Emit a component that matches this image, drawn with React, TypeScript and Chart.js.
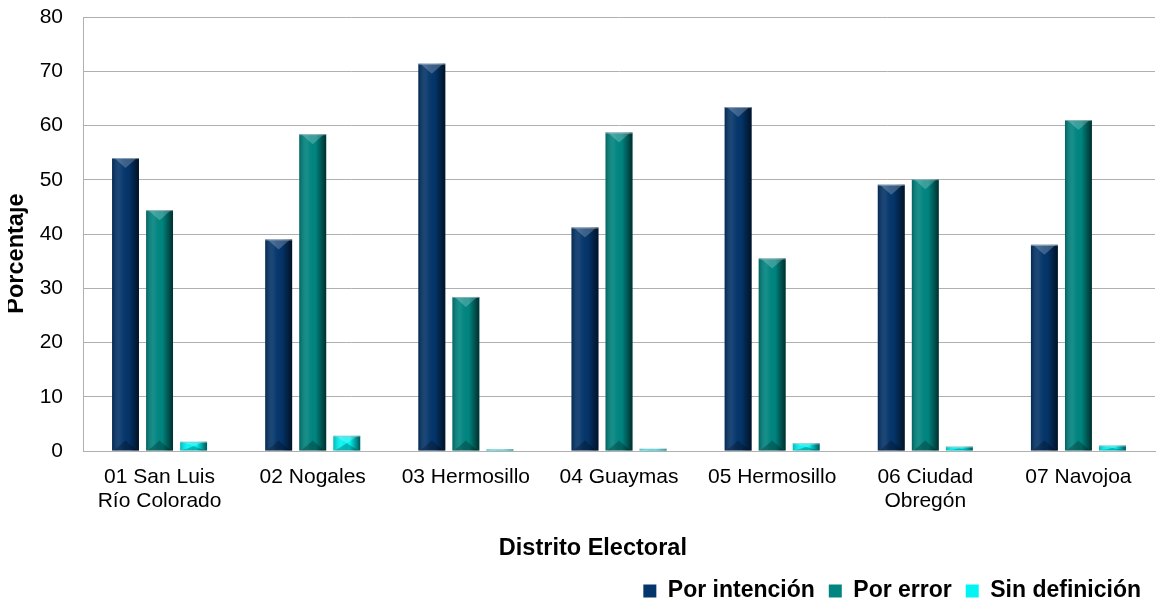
import React, { useEffect, useRef } from "react";
import { Chart, registerables } from "chart.js";

Chart.register(...registerables);

const categories: string[][] = [
  ["01 San Luis", "Río Colorado"],
  ["02 Nogales"],
  ["03 Hermosillo"],
  ["04 Guaymas"],
  ["05 Hermosillo"],
  ["06 Ciudad", "Obregón"],
  ["07 Navojoa"],
];
const porIntencion = [54.0, 39.0, 71.4, 41.2, 63.4, 49.1, 38.0];
const porError = [44.4, 58.4, 28.4, 58.7, 35.5, 50.1, 61.0];
const sinDefinicion = [1.7, 2.8, 0.3, 0.4, 1.4, 0.8, 1.0];
const yTicks = [0, 10, 20, 30, 40, 50, 60, 70, 80];
const xTitle = "Distrito Electoral";
const yTitle = "Porcentaje";

const bevelPlugin = {
  id: "bevel",
  afterDatasetsDraw(chart: any) {
    const ctx = chart.ctx as CanvasRenderingContext2D;
    chart.data.datasets.forEach((_: any, di: number) => {
      const meta = chart.getDatasetMeta(di);
      if (meta.hidden) return;
      meta.data.forEach((el: any) => {
        const { x, y, base, width } = el.getProps(["x", "y", "base", "width"], true);
        const left = x - width / 2;
        const right = x + width / 2;
        const top = Math.min(y, base);
        const bottom = Math.max(y, base);
        const h = bottom - top;
        if (h <= 0) return;
        ctx.save();
        const g = ctx.createLinearGradient(left, 0, right, 0);
        g.addColorStop(0, "rgba(0,0,0,0.25)");
        g.addColorStop(0.3, "rgba(255,255,255,0.08)");
        g.addColorStop(0.6, "rgba(0,0,0,0)");
        g.addColorStop(1, "rgba(0,0,0,0.65)");
        ctx.fillStyle = g;
        ctx.fillRect(left, top, width, h);
        const th = Math.min(10, h / 2);
        ctx.beginPath();
        ctx.moveTo(left + 2, top);
        ctx.lineTo(right - 2, top);
        ctx.lineTo(x, top + th);
        ctx.closePath();
        ctx.fillStyle = "rgba(255,255,255,0.22)";
        ctx.fill();
        ctx.beginPath();
        ctx.moveTo(left + 2, bottom);
        ctx.lineTo(right - 2, bottom);
        ctx.lineTo(x, bottom - th);
        ctx.closePath();
        ctx.fillStyle = "rgba(0,0,0,0.25)";
        ctx.fill();
        ctx.strokeStyle = "rgba(170,190,200,0.7)";
        ctx.lineWidth = 1;
        ctx.beginPath();
        ctx.moveTo(left, top + 0.5);
        ctx.lineTo(right, top + 0.5);
        ctx.stroke();
        ctx.restore();
      });
    });
  },
};

export default function App() {
  const ref = useRef<HTMLCanvasElement | null>(null);
  useEffect(() => {
    if (!ref.current) return;
    const font = "'Liberation Sans', Arial, sans-serif";
    const chart = new Chart(ref.current, {
      type: "bar",
      data: {
        labels: categories,
        datasets: [
          { label: "Por intención", data: porIntencion, backgroundColor: "#04356b" },
          { label: "Por error", data: porError, backgroundColor: "#008580" },
          { label: "Sin definición", data: sinDefinicion, backgroundColor: "#00f4f4" },
        ],
      },
      options: {
        animation: false,
        responsive: true,
        maintainAspectRatio: false,
        layout: { autoPadding: false, padding: { left: 0, right: 2, top: 0, bottom: 0 } },
        datasets: {
          bar: { categoryPercentage: 0.667, barPercentage: 0.79 },
        },
        plugins: {
          tooltip: { enabled: false },
          legend: {
            position: "bottom",
            align: "end",
            maxHeight: 41.5,
            labels: {
              color: "#000",
              font: { family: font, size: 23, weight: "bold" },
              boxWidth: 13,
              boxHeight: 13,
              padding: 14,
            },
          },
        },
        scales: {
          x: {
            afterFit: (s: any) => {
              s.paddingLeft = 0;
              s.paddingRight = 0;
              s.height = 114.5;
            },
            grid: { display: false, drawTicks: false },
            border: { display: true, color: "#b0b0b0" },
            ticks: {
              color: "#000",
              font: { family: font, size: 21, lineHeight: 1.15 },
              padding: 14,
              maxRotation: 0,
              autoSkip: false,
            },
            title: {
              display: true,
              text: xTitle + "        ",
              color: "#000",
              font: { family: font, size: 23.5, weight: "bold", lineHeight: 1.2 },
              padding: { top: 20, bottom: 2.5 },
            },
          },
          y: {
            min: 0,
            max: 80,
            afterBuildTicks: (axis: any) => {
              axis.ticks = yTicks.map((v) => ({ value: v }));
            },
            afterFit: (s: any) => {
              s.width = 75;
              s.paddingTop = 9;
              s.paddingBottom = 0;
            },
            grid: { color: "#b0b0b0", drawTicks: false },
            border: { display: true, color: "#b0b0b0" },
            ticks: {
              color: "#000",
              font: { family: font, size: 21 },
              padding: 20,
            },
            title: {
              display: true,
              text: yTitle + "      ",
              color: "#000",
              font: { family: font, size: 23.5, weight: "bold", lineHeight: 1.1 },
              padding: { top: -4, bottom: 0 },
            },
          },
        },
      },
      plugins: [bevelPlugin],
    } as any);
    return () => chart.destroy();
  }, []);
  return (
    <div style={{ width: 1149, height: 599, position: "relative" }}>
      <canvas ref={ref} />
    </div>
  );
}
